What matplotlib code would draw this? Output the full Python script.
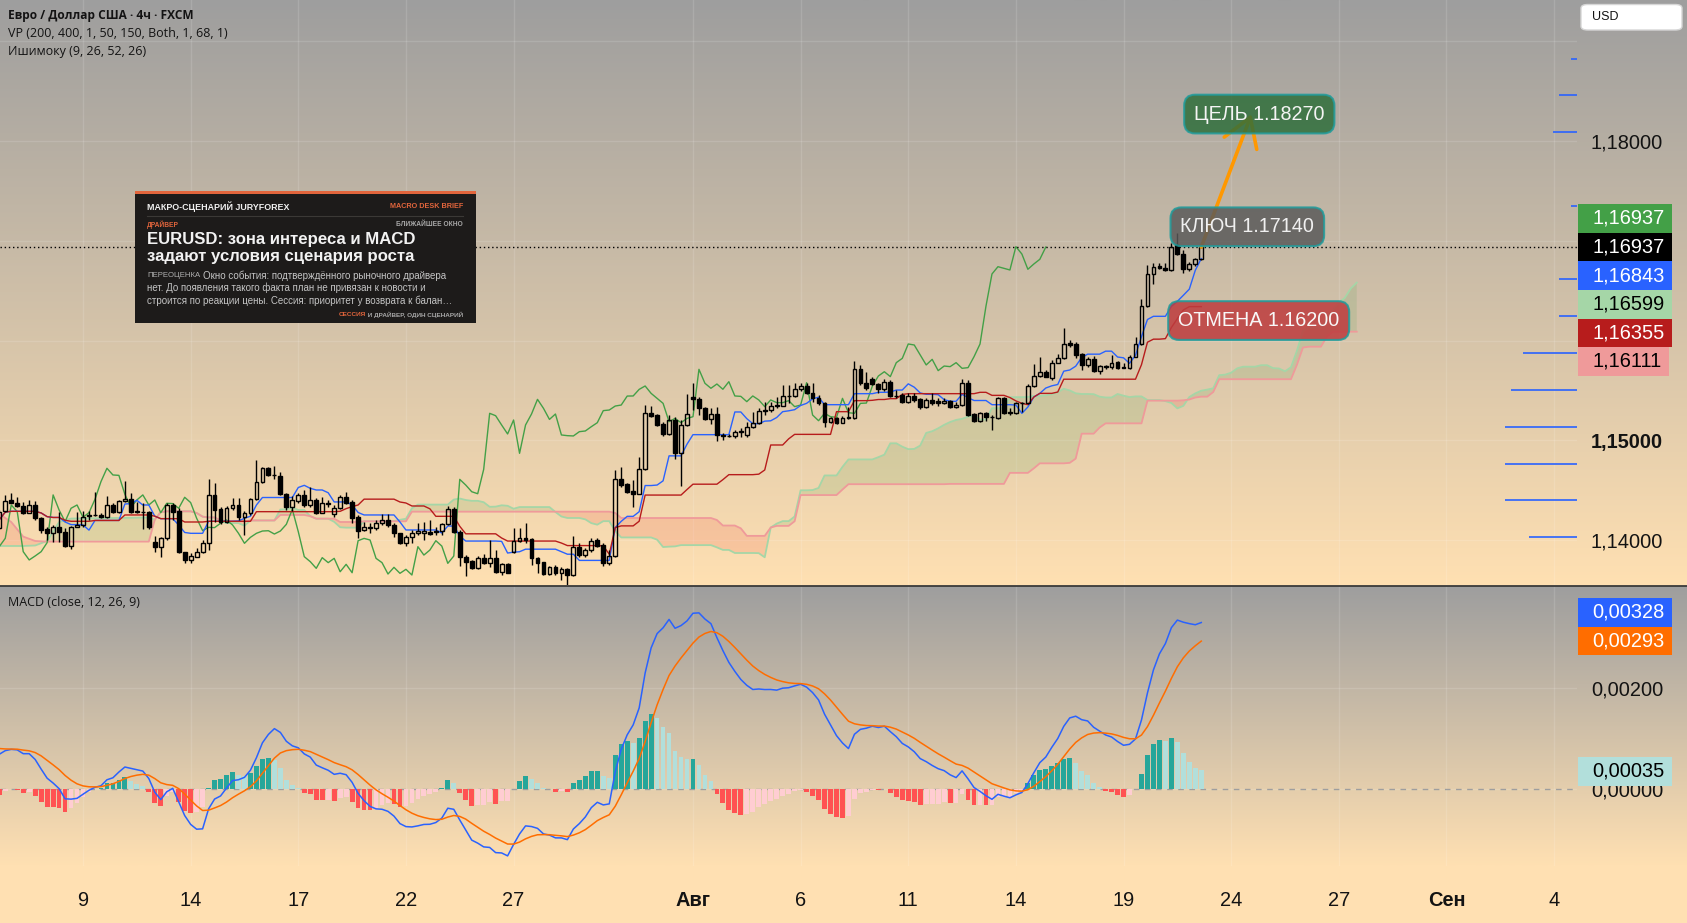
import numpy as np
import matplotlib
matplotlib.use("Agg")
import matplotlib.pyplot as plt
import matplotlib.colors as mcolors
from matplotlib.patches import Rectangle, FancyBboxPatch
from matplotlib.lines import Line2D

plt.rcParams['font.family'] = ['Liberation Sans', 'DejaVu Sans']

# ---------------- data (EURUSD, 4h) ----------------
opens = [
    1.14117, 1.14291, 1.14401, 1.14368, 1.14341, 1.14268, 1.14351, 1.14218, 1.14110, 1.14067,
    1.14127, 1.14084, 1.13940, 1.14127, 1.14151, 1.14241, 1.14251, 1.14251, 1.14228, 1.14348,
    1.14284, 1.14391, 1.14408, 1.14288, 1.14284, 1.14284, 1.13984, 1.13934, 1.14017, 1.14351,
    1.14294, 1.13883, 1.13800, 1.13833, 1.13883, 1.13974, 1.14452, 1.14308, 1.14184, 1.14318,
    1.14351, 1.14228, 1.14274, 1.14408, 1.14585, 1.14719, 1.14652, 1.14642, 1.14458, 1.14328,
    1.14395, 1.14452, 1.14351, 1.14401, 1.14274, 1.14368, 1.14261, 1.14318, 1.14428, 1.14385,
    1.14228, 1.14100, 1.14127, 1.14117, 1.14168, 1.14201, 1.14151, 1.14067, 1.13967, 1.14027,
    1.14067, 1.14067, 1.14083, 1.14080, 1.14090, 1.14157, 1.14307, 1.14083, 1.13833, 1.13789,
    1.13716, 1.13823, 1.13773, 1.13816, 1.13682, 1.13756, 1.13876, 1.13993, 1.14016, 1.14006,
    1.13816, 1.13783, 1.13659, 1.13726, 1.13666, 1.13706, 1.13649, 1.13933, 1.13849, 1.13899,
    1.14000, 1.13949, 1.13766, 1.13839, 1.14608, 1.14561, 1.14491, 1.14464, 1.14708, 1.15270,
    1.15253, 1.15163, 1.15063, 1.15203, 1.14869, 1.15153, 1.15437, 1.15410, 1.15320, 1.15209,
    1.15263, 1.15053, 1.15046, 1.15043, 1.15086, 1.15053, 1.15130, 1.15176, 1.15297, 1.15303,
    1.15343, 1.15343, 1.15443, 1.15444, 1.15510, 1.15544, 1.15470, 1.15420, 1.15370, 1.15186,
    1.15219, 1.15176, 1.15219, 1.15219, 1.15711, 1.15571, 1.15611, 1.15564, 1.15511, 1.15587,
    1.15444, 1.15454, 1.15387, 1.15444, 1.15410, 1.15337, 1.15404, 1.15397, 1.15377, 1.15397,
    1.15337, 1.15353, 1.15577, 1.15263, 1.15196, 1.15270, 1.15236, 1.15226, 1.15420, 1.15286,
    1.15270, 1.15370, 1.15370, 1.15544, 1.15644, 1.15687, 1.15621, 1.15778, 1.15821, 1.15972,
    1.15965, 1.15865, 1.15755, 1.15811, 1.15698, 1.15744, 1.15731, 1.15785, 1.15731, 1.15721,
    1.15838, 1.15965, 1.16346, 1.16667, 1.16747, 1.16724, 1.16707, 1.16958, 1.16867, 1.16714,
    1.16767, 1.16814,
]
highs = [
    1.14301, 1.14452, 1.14468, 1.14435, 1.14385, 1.14401, 1.14395, 1.14228, 1.14127, 1.14151,
    1.14284, 1.14117, 1.14141, 1.14284, 1.14291, 1.14291, 1.14485, 1.14274, 1.14442, 1.14368,
    1.14401, 1.14595, 1.14468, 1.14385, 1.14368, 1.14294, 1.14040, 1.14034, 1.14368, 1.14368,
    1.14318, 1.13883, 1.13873, 1.13917, 1.14000, 1.14609, 1.14569, 1.14335, 1.14341, 1.14418,
    1.14418, 1.14294, 1.14418, 1.14802, 1.14729, 1.14736, 1.14742, 1.14686, 1.14475, 1.14442,
    1.14468, 1.14502, 1.14535, 1.14418, 1.14435, 1.14401, 1.14351, 1.14452, 1.14485, 1.14401,
    1.14251, 1.14184, 1.14174, 1.14201, 1.14261, 1.14261, 1.14174, 1.14074, 1.14050, 1.14100,
    1.14167, 1.14184, 1.14200, 1.14133, 1.14173, 1.14340, 1.14334, 1.14100, 1.13850, 1.13799,
    1.13839, 1.13859, 1.13999, 1.13899, 1.13773, 1.13773, 1.14116, 1.14116, 1.14167, 1.14016,
    1.13833, 1.13783, 1.13739, 1.13749, 1.13726, 1.13716, 1.14043, 1.13966, 1.13916, 1.14016,
    1.14016, 1.13966, 1.13899, 1.14702, 1.14735, 1.14574, 1.14601, 1.14828, 1.15353, 1.15343,
    1.15260, 1.15186, 1.15253, 1.15236, 1.15203, 1.15464, 1.15571, 1.15437, 1.15330, 1.15320,
    1.15337, 1.15069, 1.15063, 1.15103, 1.15120, 1.15186, 1.15286, 1.15320, 1.15387, 1.15387,
    1.15437, 1.15554, 1.15554, 1.15577, 1.15577, 1.15571, 1.15571, 1.15454, 1.15387, 1.15236,
    1.15229, 1.15243, 1.15337, 1.15798, 1.15754, 1.15687, 1.15638, 1.15577, 1.15611, 1.15604,
    1.15504, 1.15471, 1.15471, 1.15471, 1.15420, 1.15420, 1.15471, 1.15420, 1.15420, 1.15404,
    1.15387, 1.15611, 1.15604, 1.15276, 1.15286, 1.15286, 1.15253, 1.15437, 1.15431, 1.15320,
    1.15387, 1.15387, 1.15564, 1.15765, 1.15838, 1.15704, 1.15805, 1.15865, 1.16122, 1.16005,
    1.15989, 1.15878, 1.15831, 1.15845, 1.15754, 1.15754, 1.15855, 1.15798, 1.15778, 1.15855,
    1.16039, 1.16413, 1.16757, 1.16774, 1.16774, 1.16774, 1.16974, 1.17075, 1.16907, 1.16790,
    1.16824, 1.16941,
]
lows = [
    1.14107, 1.14284, 1.14368, 1.14335, 1.14261, 1.14268, 1.14201, 1.14074, 1.14000, 1.13984,
    1.13984, 1.13927, 1.13907, 1.14127, 1.14134, 1.14201, 1.14241, 1.14218, 1.14218, 1.14268,
    1.14268, 1.14385, 1.14274, 1.14274, 1.14107, 1.14107, 1.13883, 1.13833, 1.14000, 1.14201,
    1.13867, 1.13766, 1.13773, 1.13827, 1.13867, 1.13900, 1.14184, 1.14161, 1.14168, 1.14301,
    1.14201, 1.14050, 1.14251, 1.14401, 1.14575, 1.14642, 1.14609, 1.14452, 1.14301, 1.14294,
    1.14375, 1.14335, 1.14335, 1.14261, 1.14268, 1.14335, 1.14228, 1.14308, 1.14361, 1.14168,
    1.14017, 1.14094, 1.14074, 1.14100, 1.14151, 1.14134, 1.14034, 1.13960, 1.13940, 1.13967,
    1.14050, 1.13999, 1.14050, 1.14050, 1.14050, 1.14150, 1.14067, 1.13740, 1.13639, 1.13706,
    1.13706, 1.13759, 1.13732, 1.13666, 1.13649, 1.13666, 1.13870, 1.13983, 1.13966, 1.13749,
    1.13672, 1.13649, 1.13649, 1.13649, 1.13599, 1.13548, 1.13639, 1.13833, 1.13826, 1.13883,
    1.13926, 1.13739, 1.13749, 1.13833, 1.14534, 1.14474, 1.14334, 1.14457, 1.14702, 1.15236,
    1.15143, 1.15043, 1.15053, 1.14808, 1.14541, 1.15143, 1.15303, 1.15253, 1.15203, 1.15163,
    1.14996, 1.15003, 1.15036, 1.15019, 1.15036, 1.15036, 1.15120, 1.15163, 1.15253, 1.15286,
    1.15320, 1.15343, 1.15370, 1.15437, 1.15497, 1.15464, 1.15387, 1.15353, 1.15136, 1.15169,
    1.15163, 1.15169, 1.15209, 1.15209, 1.15554, 1.15504, 1.15554, 1.15471, 1.15497, 1.15437,
    1.15420, 1.15377, 1.15377, 1.15387, 1.15310, 1.15320, 1.15353, 1.15343, 1.15363, 1.15320,
    1.15320, 1.15343, 1.15243, 1.15186, 1.15186, 1.15196, 1.15102, 1.15209, 1.15263, 1.15253,
    1.15263, 1.15286, 1.15363, 1.15537, 1.15638, 1.15631, 1.15604, 1.15771, 1.15811, 1.15938,
    1.15821, 1.15704, 1.15738, 1.15687, 1.15664, 1.15711, 1.15711, 1.15711, 1.15721, 1.15711,
    1.15831, 1.15955, 1.16333, 1.16567, 1.16714, 1.16700, 1.16700, 1.16857, 1.16680, 1.16700,
    1.16747, 1.16807,
]
closes = [
    1.14284, 1.14395, 1.14368, 1.14341, 1.14268, 1.14351, 1.14218, 1.14100, 1.14067, 1.14127,
    1.14084, 1.13940, 1.14127, 1.14151, 1.14234, 1.14251, 1.14248, 1.14228, 1.14348, 1.14284,
    1.14391, 1.14408, 1.14284, 1.14281, 1.14281, 1.14127, 1.13934, 1.14017, 1.14351, 1.14284,
    1.13883, 1.13800, 1.13840, 1.13883, 1.13974, 1.14452, 1.14301, 1.14184, 1.14318, 1.14351,
    1.14228, 1.14274, 1.14408, 1.14585, 1.14719, 1.14652, 1.14648, 1.14458, 1.14328, 1.14401,
    1.14452, 1.14351, 1.14401, 1.14274, 1.14368, 1.14365, 1.14318, 1.14428, 1.14375, 1.14218,
    1.14094, 1.14127, 1.14124, 1.14168, 1.14201, 1.14151, 1.14067, 1.13967, 1.14027, 1.14067,
    1.14090, 1.14093, 1.14060, 1.14090, 1.14157, 1.14307, 1.14083, 1.13833, 1.13783, 1.13716,
    1.13823, 1.13773, 1.13816, 1.13682, 1.13756, 1.13672, 1.13993, 1.14016, 1.14000, 1.13816,
    1.13773, 1.13659, 1.13726, 1.13666, 1.13706, 1.13649, 1.13933, 1.13849, 1.13899, 1.13993,
    1.13939, 1.13766, 1.13839, 1.14608, 1.14551, 1.14484, 1.14464, 1.14708, 1.15270, 1.15246,
    1.15153, 1.15063, 1.15203, 1.14869, 1.15153, 1.15263, 1.15410, 1.15320, 1.15209, 1.15263,
    1.15053, 1.15046, 1.15043, 1.15086, 1.15093, 1.15136, 1.15176, 1.15297, 1.15303, 1.15343,
    1.15353, 1.15443, 1.15444, 1.15510, 1.15544, 1.15470, 1.15420, 1.15370, 1.15186, 1.15219,
    1.15176, 1.15219, 1.15236, 1.15711, 1.15571, 1.15521, 1.15564, 1.15511, 1.15587, 1.15444,
    1.15440, 1.15387, 1.15444, 1.15404, 1.15337, 1.15404, 1.15377, 1.15377, 1.15397, 1.15337,
    1.15353, 1.15577, 1.15253, 1.15196, 1.15270, 1.15236, 1.15230, 1.15420, 1.15276, 1.15270,
    1.15370, 1.15373, 1.15544, 1.15644, 1.15687, 1.15638, 1.15778, 1.15821, 1.15965, 1.15955,
    1.15855, 1.15755, 1.15811, 1.15698, 1.15744, 1.15738, 1.15778, 1.15721, 1.15728, 1.15838,
    1.15965, 1.16346, 1.16667, 1.16740, 1.16724, 1.16707, 1.16941, 1.16867, 1.16714, 1.16767,
    1.16814, 1.16937,
]

# cloud before the first visible bar (its source bars are off screen)
lead_x = [0, 2, 4, 6, 8, 10, 12, 25]
lead_span_a = [1.13940, 1.13940, 1.13940, 1.13945, 1.13990, 1.14180, 1.14215, 1.14225]
lead_span_b = [1.14261, 1.14180, 1.14034, 1.13990, 1.13984, 1.13984, 1.13984, 1.13984]

# MACD state at the left edge of the chart
macd_start = 0.00070
signal_start = 0.00083

# volume profile rows (price, relative volume)
vp_prices = [1.18822, 1.18461, 1.18090, 1.17348, 1.16617, 1.16246,
             1.15875, 1.15504, 1.15133, 1.14762, 1.14401, 1.14030]
vp_volume = [1, 3, 4, 1, 3, 3, 9, 11, 12, 12, 12, 8]

# time axis
tick_bars = [14, 32, 50, 68, 86, 116, 134, 152, 170, 188, 206, 224, 242, 260]
tick_labels = ['9', '14', '17', '22', '27', 'Авг', '6', '11', '14', '19', '24', '27', 'Сен', '4']
bold_ticks = ['Авг', 'Сен']

# right-hand value tags
ichi_tag_values = [1.16937, 1.16937, 1.16843, 1.16599, 1.16355, 1.16111]
ichi_tag_faces = ['#43a047', '#000000', '#2962ff', '#a5d6a7', '#b71c1c', '#ef9a9a']
ichi_tag_text = ['white', 'white', 'white', 'black', 'white', 'black']
macd_tag_values = [0.00328, 0.00293, 0.00035]
macd_tag_faces = ['#2962ff', '#ff6d00', '#b2dfdb']
macd_tag_text = ['white', 'white', 'black']

target_level = 1.18270
key_level = 1.17140
cancel_level = 1.16200

# ---------------- indicators ----------------
o = np.array(opens)
h = np.array(highs)
l = np.array(lows)
c = np.array(closes)
idx = np.arange(len(c))
last = idx[-1]


def midpoint(hi, lo, n):
    out = np.empty(len(hi))
    for i in range(len(hi)):
        s = max(0, i - n + 1)
        out[i] = (hi[s:i + 1].max() + lo[s:i + 1].min()) / 2
    return out


def ema(x, n, seed):
    a = 2 / (n + 1)
    out = np.empty(len(x))
    prev = seed
    for i, v in enumerate(x):
        prev = prev + a * (v - prev)
        out[i] = prev
    return out


tenkan = midpoint(h, l, 9)
kijun = midpoint(h, l, 26)
span_a = (tenkan + kijun) / 2
span_b = midpoint(h, l, 52)

cloud_x = np.concatenate([lead_x, idx + 26])
cloud_a = np.concatenate([lead_span_a, span_a])
cloud_b = np.concatenate([lead_span_b, span_b])

fast = ema(c, 12, c[0] - 0.0005)
slow = ema(c, 26, c[0] - 0.0005 - macd_start)
macd = fast - slow
signal = ema(macd, 9, signal_start)
hist = macd - signal

# ---------------- figure layout ----------------
W, H = 1687, 923
fig = plt.figure(figsize=(W / 100, H / 100), dpi=100, facecolor='#ffe0b2')
renderer = fig.canvas.get_renderer()
AXIS_FS = 14.4


def fx(px):
    return px / W


def fy(py):
    return 1 - py / H


PRICE_BOT = 585
MACD_TOP, MACD_BOT = 586, 866
PLOT_RIGHT = 1577
BAR_PX, BAR_X0 = 5.98, -0.7


def gradient_panel(top, bot):
    bg = fig.add_axes([0, fy(bot), 1, (bot - top) / H], zorder=-10)
    t = np.linspace(0, 1, 256)[:, None, None]
    c0 = np.array(mcolors.to_rgb('#9e9e9e'))
    c1 = np.array(mcolors.to_rgb('#ffe0b2'))
    bg.imshow(c0 * (1 - t) + c1 * t, aspect='auto', extent=(0, 1, 0, 1))
    bg.set_axis_off()


gradient_panel(0, PRICE_BOT)
gradient_panel(MACD_TOP, MACD_BOT)

xlim = ((0 - BAR_X0) / BAR_PX, (PLOT_RIGHT - BAR_X0) / BAR_PX)

ax = fig.add_axes([0, fy(PRICE_BOT), fx(PLOT_RIGHT), PRICE_BOT / H])
ax.set_facecolor('none')
ax.set_xlim(*xlim)
px_price = 0.01 / 99.75
ax.set_ylim(1.18 - (PRICE_BOT - 141) * px_price, 1.18 + 141 * px_price)

axm = fig.add_axes([0, fy(MACD_BOT), fx(PLOT_RIGHT), (MACD_BOT - MACD_TOP) / H])
axm.set_facecolor('none')
axm.set_xlim(*xlim)
px_macd = 0.002 / 101
axm.set_ylim(-(MACD_BOT - 789) * px_macd, (789 - MACD_TOP) * px_macd)

for a in (ax, axm):
    for s in a.spines.values():
        s.set_visible(False)
    a.set_xticks(tick_bars)
    a.grid(True, color='white', alpha=0.13, lw=1)
    a.set_axisbelow(True)
    a.yaxis.tick_right()

# ---------------- price pane ----------------
ax.fill_between(cloud_x, cloud_a, cloud_b, where=cloud_a >= cloud_b, interpolate=True,
                color='#43a047', alpha=0.13, lw=0, zorder=1)
ax.fill_between(cloud_x, cloud_a, cloud_b, where=cloud_a < cloud_b, interpolate=True,
                color='#f44336', alpha=0.15, lw=0, zorder=1)
ax.plot(cloud_x, cloud_a, color='#a5d6a7', lw=1.3, zorder=2)
ax.plot(cloud_x, cloud_b, color='#ef9a9a', lw=1.3, zorder=2)
ax.plot(idx[26:] - 26, c[26:], color='#43a047', lw=1, zorder=2)
ax.plot(idx, tenkan, color='#2962ff', lw=1, zorder=2)
ax.plot(idx, kijun, color='#b71c1c', lw=1, zorder=2)

body_lo = np.minimum(o, c)
body_hi = np.maximum(o, c)
body_h = np.maximum(body_hi - body_lo, 0.00002)
up = c >= o
ax.vlines(idx, body_hi, h, color='black', lw=1, zorder=3)
ax.vlines(idx, l, body_lo, color='black', lw=1, zorder=3)
ax.bar(idx[up], body_h[up], bottom=body_lo[up], width=0.64, facecolor='none',
       edgecolor='black', lw=1, zorder=4)
ax.bar(idx[~up], body_h[~up], bottom=body_lo[~up], width=0.64, facecolor='black',
       edgecolor='black', lw=1, zorder=4)

ax.axhline(c[-1], color='black', lw=1, ls=(0, (1, 2)), zorder=3)

vp_right = xlim[1]
ax.hlines(vp_prices, vp_right - np.array(vp_volume), vp_right, color='#2962ff', lw=1.2, zorder=3)

price_ticks = [1.14, 1.15, 1.16, 1.17, 1.18, 1.19]
ax.set_yticks(price_ticks)
ax.set_yticklabels(['1,14000', '1,15000', '', '', '1,18000', ''])
ax.tick_params(axis='y', length=0, pad=10, labelsize=AXIS_FS, labelcolor='#131313')
ax.tick_params(axis='x', length=0, labelbottom=False)
for t in ax.get_yticklabels():
    if t.get_text() == '1,15000':
        t.set_fontweight('bold')

# scenario: arrow from the last close to the target, boxes on top
ax.annotate('', xy=(last + 8.4, target_level), xytext=(last, c[-1]),
            arrowprops=dict(arrowstyle='->,head_length=2.0,head_width=1.25', color='#ff9800',
                            lw=2.6, shrinkA=0, shrinkB=0),
            zorder=7)
box_kw = dict(ha='center', va='center', fontsize=14.2, zorder=8)
box_style = 'round,pad=0.5,rounding_size=0.55'
ax.text(last + 9.7, target_level, 'ЦЕЛЬ 1.18270', color='#f4f4f4',
        bbox=dict(boxstyle=box_style, fc='#2e6e3a', ec='#1f9c9c', lw=1.5, alpha=0.84), **box_kw)
ax.text(last + 7.7, key_level, 'КЛЮЧ 1.17140', color='#f0f0f0',
        bbox=dict(boxstyle=box_style, fc='#595959', ec='#1f9c9c', lw=1.5, alpha=0.84), **box_kw)
ax.text(last + 9.6, cancel_level, 'ОТМЕНА 1.16200', color='#f8f8f8',
        bbox=dict(boxstyle=box_style, fc='#bd3c3e', ec='#1f9c9c', lw=1.5, alpha=0.86), **box_kw)

# ---------------- MACD pane ----------------
hist_colors = []
for i, v in enumerate(hist):
    prev = hist[i - 1] if i > 0 else v
    if v >= 0:
        hist_colors.append('#26a69a' if v > prev else '#b2dfdb')
    else:
        hist_colors.append('#ffcdd2' if v > prev else '#ff5252')
axm.bar(idx, hist, width=0.8, color=hist_colors, zorder=2)
axm.axhline(0, color='#9e9e9e', lw=1, ls=(0, (4, 4)), zorder=1)
axm.plot(idx, macd, color='#2962ff', lw=1.1, zorder=3)
axm.plot(idx, signal, color='#ff6d00', lw=1.1, zorder=3)

axm.set_yticks([0, 0.002])
axm.set_yticklabels(['0,00000', '0,00200'])
axm.tick_params(axis='y', length=0, pad=10, labelsize=AXIS_FS, labelcolor='#131313')
axm.set_xticklabels(tick_labels)
axm.tick_params(axis='x', length=0, pad=18, labelsize=AXIS_FS, labelcolor='#131313')
for t in axm.get_xticklabels():
    if t.get_text() in bold_ticks:
        t.set_fontweight('bold')

# pane separator
fig.add_artist(Line2D([0, 1], [fy(585.5), fy(585.5)], transform=fig.transFigure,
                      color='#3a3a3a', lw=1.3, zorder=5))

# ---------------- right-hand tags ----------------
TAG_H = 28.6


def y_top_of(axis, v):
    return H - axis.transData.transform((0, v))[1]


def stack(ys, anchor):
    out = list(ys)
    for i in range(anchor - 1, -1, -1):
        out[i] = min(out[i], out[i + 1] - TAG_H)
    for i in range(anchor + 1, len(out)):
        out[i] = max(out[i], out[i - 1] + TAG_H)
    return out


def draw_tags(axis, values, faces, fgs, anchor):
    ys = stack([y_top_of(axis, v) for v in values], anchor)
    for v, yy, face, fg in zip(values, ys, faces, fgs):
        t = fig.text(fx(1592), fy(yy), f'{v:.5f}'.replace('.', ','), color=fg, fontsize=AXIS_FS,
                     ha='left', va='center', zorder=7)
        right = t.get_window_extent(renderer).x1 + 8
        fig.add_artist(Rectangle((fx(1578), fy(yy + TAG_H / 2)), (right - 1578) / W, TAG_H / H,
                                 transform=fig.transFigure, facecolor=face, edgecolor='none', zorder=6))


draw_tags(ax, ichi_tag_values, ichi_tag_faces, ichi_tag_text, anchor=1)
draw_tags(axm, macd_tag_values, macd_tag_faces, macd_tag_text, anchor=1)

# currency box
fig.add_artist(FancyBboxPatch((fx(1581), fy(30)), 101 / W, 25.5 / H, boxstyle='round,pad=0,rounding_size=0.004',
                              transform=fig.transFigure, facecolor='white', edgecolor='#d6d6d6', lw=1, zorder=6))
fig.text(fx(1592), fy(17.5), 'USD', fontsize=9, color='#131313', ha='left', va='center', zorder=7)

# ---------------- legends ----------------
hdr = ['Open Sans', 'DejaVu Sans']
fig.text(fx(8), fy(16), 'Евро / Доллар США · 4ч · FXCM', family=hdr, fontsize=8.6,
         fontweight='bold', color='#131313', va='center')
fig.text(fx(8), fy(33.5), 'VP (200, 400, 1, 50, 150, Both, 1, 68, 1)', family=hdr, fontsize=9,
         color='#131313', va='center')
fig.text(fx(8), fy(51), 'Ишимоку (9, 26, 52, 26)', family=hdr, fontsize=9,
         color='#131313', va='center')
fig.text(fx(8), fy(602), 'MACD (close, 12, 26, 9)', family=hdr, fontsize=9,
         color='#131313', va='center')

# ---------------- macro card ----------------
CX0, CX1, CY0, CY1 = 134.5, 475.5, 190.5, 323
orange = '#e2653c'
grey = '#a8a8a8'
fig.add_artist(Rectangle((fx(CX0), fy(CY1)), (CX1 - CX0) / W, (CY1 - CY0) / H,
                         transform=fig.transFigure, facecolor='#1d1b1a', edgecolor='none', zorder=9))
fig.add_artist(Rectangle((fx(CX0), fy(CY0 + 3.5)), (CX1 - CX0) / W, 3.5 / H,
                         transform=fig.transFigure, facecolor=orange, edgecolor='none', zorder=10))
fig.add_artist(Line2D([fx(147), fx(463)], [fy(215.5), fy(215.5)], transform=fig.transFigure,
                      color='#3b3936', lw=0.8, zorder=10))
fig.text(fx(147), fy(206.5), 'МАКРО-СЦЕНАРИЙ JURYFOREX', fontsize=6.4, fontweight='bold',
         color='#f0f0f0', va='center', zorder=11)
fig.text(fx(463), fy(206.5), 'MACRO DESK BRIEF', fontsize=5.2, fontweight='bold',
         color=orange, va='center', ha='right', zorder=11)
fig.text(fx(147), fy(224.5), 'ДРАЙВЕР', fontsize=4.8, fontweight='bold',
         color=orange, va='center', zorder=11)
fig.text(fx(463), fy(224.5), 'БЛИЖАЙШЕЕ ОКНО', fontsize=4.8, fontweight='bold',
         color=grey, va='center', ha='right', zorder=11)
fig.text(fx(147), fy(240), 'EURUSD: зона интереса и MACD', fontsize=12.1, fontweight='bold',
         color='#f2f2f2', va='center', zorder=11)
fig.text(fx(147), fy(257), 'задают условия сценария роста', fontsize=12.1, fontweight='bold',
         color='#f2f2f2', va='center', zorder=11)

lead = fig.text(fx(147), fy(275.5), 'ПЕРЕОЦЕНКА', fontsize=5.6, color='#b0b0b0',
                va='center', zorder=11)
lead_right = lead.get_window_extent(renderer).x1 + 3
body = ['Окно события: подтверждённого рыночного драйвера',
        'нет. До появления такого факта план не привязан к новости и',
        'строится по реакции цены. Сессия: приоритет у возврата к балан…']
for k, line in enumerate(body):
    x0 = lead_right / W if k == 0 else fx(147)
    fig.text(x0, fy(275.5 + 12.7 * k), line, fontsize=7, color='#c4c4c4',
             va='center', zorder=11)
foot = fig.text(fx(463), fy(314.5), ' И ДРАЙВЕР, ОДИН СЦЕНАРИЙ', fontsize=4.6, fontweight='bold',
                color=grey, va='center', ha='right', zorder=11)
left_px = foot.get_window_extent(renderer).x0
fig.text(left_px / W, fy(314.5), 'СЕССИЯ', fontsize=4.6, fontweight='bold',
         color=orange, va='center', ha='right', zorder=11)

fig.savefig('out.png', dpi=100, facecolor=fig.get_facecolor())
